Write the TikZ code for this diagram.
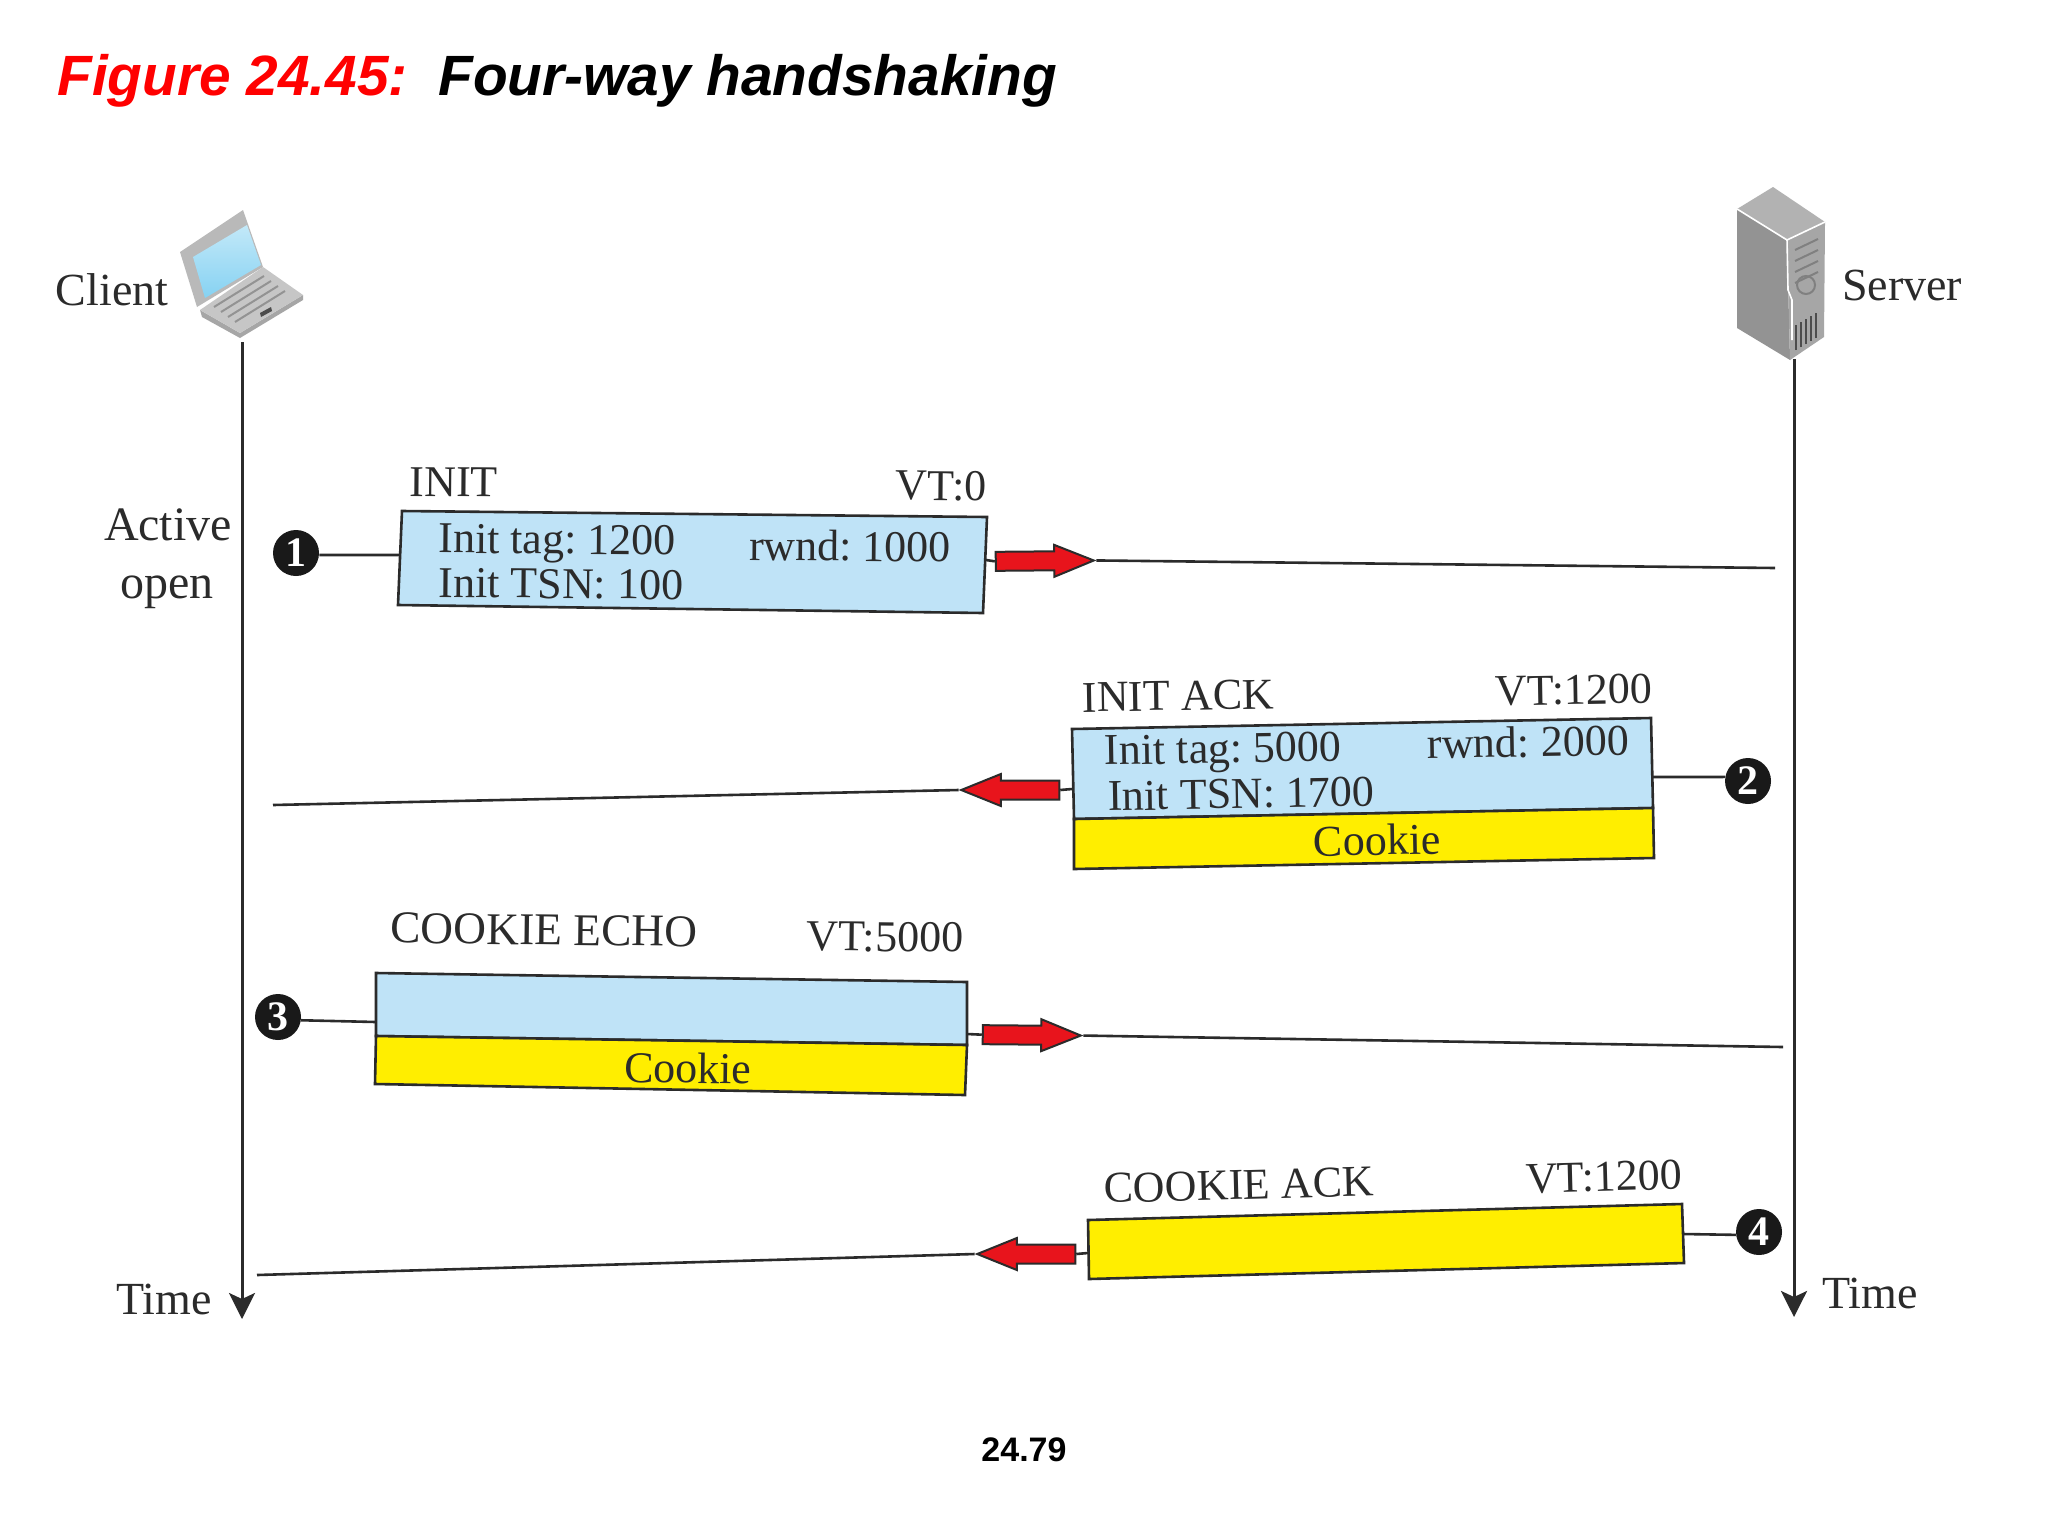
\documentclass[tikz,border=0pt]{standalone}
\usepackage{fontspec}
\setmainfont{Liberation Serif}
\newfontfamily\titlefont{Liberation Sans}
\usetikzlibrary{arrows.meta,shapes.arrows}
\definecolor{msgblue}{HTML}{BFE3F7}
\definecolor{msgyellow}{HTML}{FFEE00}
\definecolor{arrowred}{HTML}{E8141C}
\definecolor{inkgray}{HTML}{2B2B2B}
\definecolor{screenblue}{HTML}{86D2F2}
\tikzset{
  lbl/.style={text=inkgray, inner sep=0pt, font=\frenchspacing\fontsize{22}{24}\selectfont},
  biglbl/.style={text=inkgray, inner sep=0pt, font=\fontsize{23}{25}\selectfont},
  msgbox/.style={draw=inkgray, line width=1.3pt},
  wire/.style={draw=inkgray, line width=1.3pt},
  timeline/.style={draw=inkgray, line width=1.5pt, -{Stealth[length=13pt,width=13pt,inset=3pt]}},
  stepdot/.style={circle, fill=black!90, text=white, inner sep=0pt, minimum size=23pt, font=\fontsize{21}{22}\selectfont\bfseries},
  redarrow/.style={single arrow, draw=inkgray, fill=arrowred, line width=1pt, inner sep=0pt, text height=8.5pt, text depth=0pt, minimum height=49pt, minimum width=15pt, single arrow head extend=3.25pt, single arrow tip angle=44},
}
\begin{document}
\begin{tikzpicture}[x=0.5pt,y=-0.5pt]
\useasboundingbox (0,0) rectangle (2048,1536);
\fill[white] (0,0) rectangle (2048,1536);
% title and page number
\node[anchor=base west, inner sep=0pt, text=red, font=\fontsize{28.4}{30}\titlefont\bfseries\itshape] (figlabel) at (57,96) {Figure 24.45:};
\node[anchor=base west, inner sep=0pt, text=black, font=\fontsize{28.4}{30}\titlefont\bfseries\itshape] (figname) at (438,96) {Four-way handshaking};
\node[inner sep=0pt, text=black, font=\fontsize{17}{18}\titlefont\bfseries] (pagenum) at (1024,1450) {24.79};
% laptop
\fill[gray!55] (180,252) -- (243,210) -- (263,267) -- (197,307) -- cycle;
\shade[top color=screenblue!50, bottom color=screenblue] (193,257) -- (247,225) -- (261,265) -- (205,298) -- cycle;
\fill[gray!70] (202,317) -- (240,338) -- (303,300) -- (303,295) -- (240,333) -- (200,310) -- cycle;
\fill[gray!45] (200,310) -- (263,267) -- (303,295) -- (240,333) -- cycle;
\foreach \k in {0,1,2,3} \draw[gray!85, line width=1pt] (214+\k*7,307+\k*5) -- (264+\k*7,276+\k*5);
\fill[black!70] (260,313) -- (271,307) -- (272,311) -- (261,317) -- cycle;
\coordinate (laptop) at (242,342);
% server
\fill[gray!60] (1737,209) -- (1773,187) -- (1825,222) -- (1787,240) -- cycle;
\fill[gray!85] (1737,209) -- (1787,240) -- (1790,360) -- (1737,328) -- cycle;
\fill[gray!70] (1787,240) -- (1825,222) -- (1824,337) -- (1790,360) -- cycle;
\draw[white, line width=0.8pt] (1737,209) -- (1787,240) -- (1825,222);
\draw[white, line width=0.8pt] (1787,240) -- (1788,290) -- (1792,300) -- (1792,340);
\foreach \k in {0,1,2,3} \draw[gray, line width=1pt] (1795,250+\k*11) -- (1818,239+\k*11);
\draw[gray, line width=1pt] (1806,285) circle (9);
\foreach \k in {0,1,2,3,4} \draw[black!70, line width=1pt] (1796+\k*5,350-\k*3) -- (1796+\k*5,325-\k*3);
\coordinate (server) at (1794,359);
% time lines
\coordinate (clientend) at (242,1319);
\coordinate (serverend) at (1794,1317);
\draw[timeline] (laptop) -- (clientend);
\draw[timeline] (server) -- (serverend);
\node[biglbl] (client) at (112,290) {Client};
\node[biglbl] (srvlabel) at (1902,285) {Server};
\node[biglbl, font=\fontsize{24}{26}\selectfont] (active) at (168,525) {Active};
\node[biglbl, font=\fontsize{24}{26}\selectfont] (open) at (167,592) {open};
\node[biglbl] (timeleft) at (164,1299) {Time};
\node[biglbl] (timeright) at (1870,1293) {Time};
% step numbers
\foreach \n/\x/\y in {1/296/553, 2/1748/781, 3/278/1017, 4/1759/1232}
  \node[stepdot] (step\n) at (\x,\y) {\n};
% INIT
\draw[msgbox, fill=msgblue] (402,511) -- (987,517) -- (983,613) -- (398,605) -- cycle;
\node[lbl, rotate=-0.5] (init) at (454,482) {INIT};
\node[lbl, rotate=-0.5] (vtinit) at (941,486) {VT:0};
\node[lbl, rotate=-0.5] (inittag) at (557,544) {Init tag: 1200};
\node[lbl, rotate=-0.5] (rwndinit) at (850,546) {rwnd: 1000};
\node[lbl, rotate=-0.5] (inittsn) at (561,584) {Init TSN: 100};
\coordinate (initw) at (400,555);
\coordinate (inite) at (986,560);
\node[redarrow, rotate=0.5] (arrow1) at (1033,561) {};
\coordinate (end1) at (1775,568);
\draw[wire] (step1.-5) -- (initw);
\draw[wire] (inite) -- (arrow1.tail);
\draw[wire] (arrow1.tip) -- (end1);
% INIT ACK
\draw[msgbox, fill=msgblue] (1072,729) -- (1651,718) -- (1653,808) -- (1074,819) -- cycle;
\draw[msgbox, fill=msgyellow] (1074,819) -- (1653,808) -- (1654,858) -- (1074,869) -- cycle;
\node[lbl, rotate=1] (initack) at (1178,696) {INIT ACK};
\node[lbl, rotate=1] (vtack) at (1574,690) {VT:1200};
\node[lbl, rotate=1] (acktag) at (1223,753) {Init tag: 5000};
\node[lbl, rotate=1] (rwndack) at (1528,742) {rwnd: 2000};
\node[lbl, rotate=1] (acktsn) at (1241,794) {Init TSN: 1700};
\node[lbl, rotate=1] (cookieack) at (1377,840) {Cookie};
\coordinate (acke) at (1653,777);
\coordinate (ackw) at (1072,789);
\node[redarrow, rotate=180] (arrow2) at (1022,790) {};
\coordinate (end2) at (273,805);
\draw[wire] (step2.170) -- (acke);
\draw[wire] (ackw) -- (arrow2.tail);
\draw[wire] (arrow2.tip) -- (end2);
% COOKIE ECHO
\draw[msgbox, fill=msgblue] (376,973) -- (967,982) -- (967,1045) -- (376,1036) -- cycle;
\draw[msgbox, fill=msgyellow] (376,1036) -- (967,1045) -- (965,1095) -- (375,1084) -- cycle;
\node[lbl, font=\frenchspacing\fontsize{22.7}{24}\selectfont, rotate=-0.7] (echo) at (544,930) {COOKIE ECHO};
\node[lbl, rotate=-0.7] (vtecho) at (885,937) {VT:5000};
\node[lbl, rotate=-0.7] (cookieecho) at (688,1068) {Cookie};
\coordinate (echow) at (376,1022);
\coordinate (echoe) at (967,1034);
\node[redarrow, rotate=-0.5] (arrow3) at (1020,1035) {};
\coordinate (end3) at (1783,1047);
\draw[wire] (step3.-8) -- (echow);
\draw[wire] (echoe) -- (arrow3.tail);
\draw[wire] (arrow3.tip) -- (end3);
% COOKIE ACK
\draw[msgbox, fill=msgyellow] (1088,1220) -- (1682,1204) -- (1684,1263) -- (1089,1279) -- cycle;
\node[lbl, rotate=1.5] (cack) at (1239,1185) {COOKIE ACK};
\node[lbl, rotate=1.5] (vtcack) at (1604,1177) {VT:1200};
\coordinate (cacke) at (1683,1234);
\coordinate (cackw) at (1088,1253);
\node[redarrow, rotate=180] (arrow4) at (1038,1254) {};
\coordinate (end4) at (257,1275);
\draw[wire] (step4.187) -- (cacke);
\draw[wire] (cackw) -- (arrow4.tail);
\draw[wire] (arrow4.tip) -- (end4);
\end{tikzpicture}
\end{document}
